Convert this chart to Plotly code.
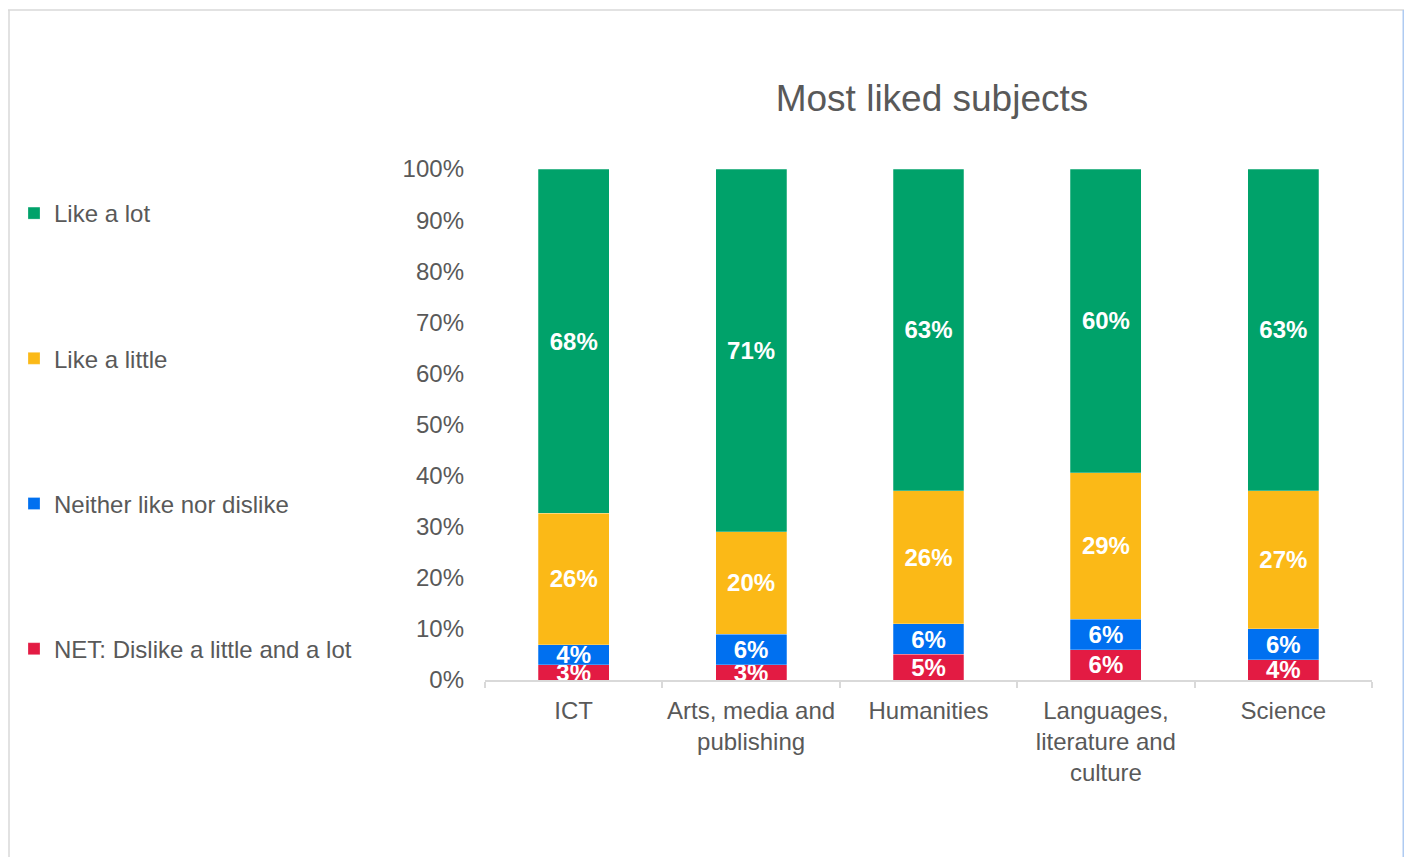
import plotly.graph_objects as go

categories = ["ICT", "Arts, media and<br>publishing", "Humanities",
              "Languages,<br>literature and<br>culture", "Science"]
series_names = ["NET: Dislike a little and a lot", "Neither like nor dislike",
                "Like a little", "Like a lot"]
dislike = [3, 3, 5, 6, 4]
neither = [4, 6, 6, 6, 6]
like_little = [26, 20, 26, 29, 27]
like_lot = [68, 71, 63, 60, 63]
series_values = [dislike, neither, like_little, like_lot]
legend_ranks = [4, 3, 2, 1]
colors = ["#E31B43", "#0070F0", "#FBB917", "#00A26A"]
y_ticks = [0, 10, 20, 30, 40, 50, 60, 70, 80, 90, 100]
y_tick_labels = [f"{v}%" for v in y_ticks]

# page offset of the plot div (default body margin)
OFF = 8
W, H = 1412 - OFF, 857 - OFF
ML, MR = 485 - OFF, 1412 - 1372
MT, MB = 169 - OFF, 857 - 680
pw, ph = W - ML - MR, H - MT - MB


def px_x(p):
    """screen pixel x -> paper x"""
    return (p - OFF - ML) / pw


def px_y(p):
    """screen pixel y -> paper y"""
    return (H - MB - (p - OFF)) / ph


font_family = "Liberation Sans, Arial, sans-serif"
FS = 24

fig = go.Figure()
for name, vals, col, rk in zip(series_names, series_values, colors, legend_ranks):
    fig.add_trace(go.Bar(
        x=categories, y=vals, name=name, legendgroup=name, legendrank=rk,
        marker=dict(color=col, line=dict(color="rgba(255,255,255,0.5)", width=0.5)),
        text=[f"{v}%" for v in vals], textposition="inside",
        insidetextanchor="middle", cliponaxis=True,
        textfont=dict(family=font_family, size=FS, color="white", weight="bold"),
        hoverinfo="skip",
    ))

fig.update_layout(
    width=W, height=H,
    barmode="stack", barnorm="percent", bargap=0.6,
    plot_bgcolor="white", paper_bgcolor="white",
    margin=dict(l=ML, r=MR, t=MT, b=MB, autoexpand=False),
    font=dict(family=font_family, size=FS, color="#595959"),
    uniformtext=dict(minsize=FS, mode="show"),
    title=dict(text="Most liked subjects", x=px_x(932), xref="paper", xanchor="center",
               y=1 - (98 - OFF) / H, yref="container", yanchor="middle",
               font=dict(family=font_family, size=37, color="#595959")),
    legend=dict(x=px_x(14), xanchor="left", y=px_y(191), yanchor="top",
                traceorder="grouped", tracegroupgap=111,
                font=dict(family=font_family, size=FS, color="#595959"),
                bgcolor="rgba(0,0,0,0)"),
    xaxis=dict(showline=True, linecolor="#D9D9D9", linewidth=1.5,
               ticks="outside", tickson="boundaries", ticklen=6, tickcolor="#D9D9D9",
               tickwidth=1.5, showgrid=False, ticklabelstandoff=8, tickangle=0,
               tickfont=dict(size=FS, color="#595959"), fixedrange=True),
    yaxis=dict(range=[0, 100], tickvals=y_ticks, ticktext=y_tick_labels,
               showgrid=False, showline=False, zeroline=False, ticks="",
               ticklabelstandoff=20, tickfont=dict(size=FS, color="#595959"),
               fixedrange=True),
    shapes=[
        dict(type="line", xref="paper", yref="paper", x0=px_x(8), x1=px_x(1404),
             y0=px_y(10), y1=px_y(10), line=dict(color="#D9D9D9", width=1.5), layer="below"),
        dict(type="line", xref="paper", yref="paper", x0=px_x(9), x1=px_x(9),
             y0=px_y(10), y1=px_y(860), line=dict(color="#D9D9D9", width=1.5), layer="below"),
        dict(type="line", xref="paper", yref="paper", x0=px_x(1403.5), x1=px_x(1403.5),
             y0=px_y(10), y1=px_y(860), line=dict(color="#AFCBF2", width=2), layer="below"),
    ],
)

fig.write_html("out.html", config={"displayModeBar": False})
